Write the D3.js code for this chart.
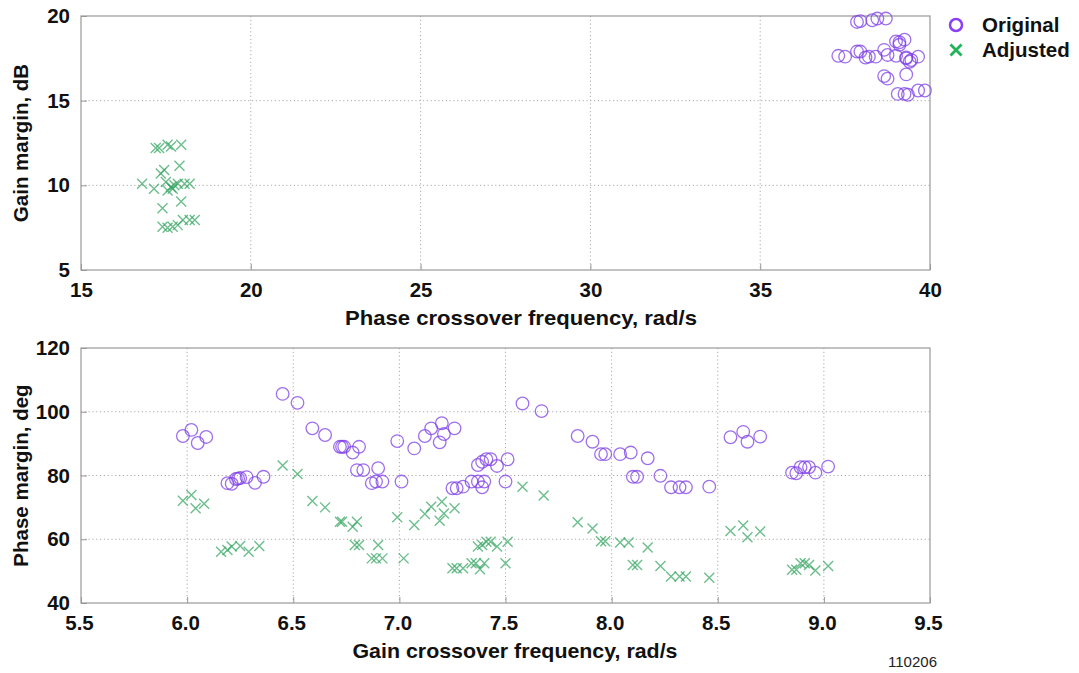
<!DOCTYPE html>
<html><head><meta charset="utf-8">
<script src="https://cdn.jsdelivr.net/npm/d3@7"></script>
<style>
body{margin:0;background:#fff;}
text{font-family:"Liberation Sans",Arial,Helvetica,sans-serif;}
</style></head>
<body><svg id="c" width="1079" height="673"></svg>
<script>
// ---------- data ----------
const topXTicks = [15,20,25,30,35,40];
const topYTicks = [5,10,15,20];
const botXTicks = [5.5,6.0,6.5,7.0,7.5,8.0,8.5,9.0,9.5];
const botYTicks = [40,60,80,100,120];
const seriesNames = ["Original","Adjusted"];

// Top: phase crossover frequency (rad/s) vs gain margin (dB)
const topOriginalX = [37.3,37.5,37.85,38.1,38.4,38.65,38.75,39.0,39.3,39.45,39.65,39.25,39.1,37.95,37.85,38.3,38.45,38.7,39.0,39.1,38.65,38.75,39.3,39.05,39.35,39.25,39.65,39.85,39.4,39.3,38.2,37.95];
const topOriginalY = [17.65,17.6,17.9,17.55,17.6,18.0,17.7,17.65,17.55,17.4,17.6,18.6,18.3,19.7,19.65,19.75,19.85,19.85,18.5,18.45,16.45,16.3,16.55,15.4,15.35,15.4,15.6,15.6,17.3,17.5,17.6,17.9];
const topAdjustedX = [17.2,17.3,17.55,17.65,17.95,17.45,17.35,17.9,16.8,17.15,17.55,17.7,17.85,18.05,18.2,17.5,17.4,17.95,17.4,17.55,17.7,17.85,18.0,18.2,18.35,17.65,17.75];
const topAdjustedY = [12.2,12.2,12.4,12.3,12.4,10.9,10.7,11.15,10.1,9.8,9.7,9.8,10.1,10.1,10.1,10.2,8.65,9.05,7.55,7.5,7.55,7.65,7.95,7.95,7.95,9.9,10.0];

// Bottom: gain crossover frequency (rad/s) vs phase margin (deg)
const botOriginalX = [5.98,6.02,6.05,6.09,6.19,6.21,6.23,6.25,6.28,6.32,6.36,6.24,6.45,6.52,6.59,6.65,6.72,6.73,6.74,6.78,6.81,6.80,6.83,6.87,6.90,6.89,6.92,7.01,6.99,7.07,7.12,7.15,7.20,7.21,7.19,7.26,7.25,7.27,7.30,7.34,7.37,7.39,7.40,7.50,7.37,7.39,7.41,7.43,7.46,7.51,7.58,7.67,7.84,7.91,7.95,7.97,8.04,8.09,8.17,8.10,8.12,8.23,8.28,8.32,8.35,8.46,8.56,8.62,8.64,8.70,8.85,8.87,8.89,8.91,8.93,8.96,9.02];
const botOriginalY = [92.4,94.3,90.2,92.1,77.6,77.4,78.9,79.2,79.5,77.7,79.6,79.0,105.6,102.8,94.8,92.7,89.0,89.0,89.0,87.2,89.0,81.7,81.7,77.6,82.3,78.1,78.1,78.1,90.8,88.5,92.4,94.8,96.4,93.0,90.4,94.8,76.0,76.0,76.5,78.1,78.1,76.3,78.1,78.1,83.3,84.3,85.1,85.1,83.0,85.1,102.6,100.2,92.4,90.6,86.7,86.7,86.7,87.2,85.4,79.6,79.6,79.9,76.3,76.3,76.3,76.5,92.0,93.7,90.6,92.2,80.9,80.7,82.6,82.6,82.6,80.9,82.8];
const botAdjustedX = [5.98,6.02,6.04,6.08,6.16,6.19,6.21,6.25,6.29,6.34,6.45,6.52,6.59,6.65,6.72,6.73,6.78,6.80,6.79,6.81,6.90,6.87,6.89,6.92,7.02,6.99,7.07,7.12,7.15,7.20,7.21,7.19,7.26,7.25,7.27,7.30,7.34,7.36,7.38,7.40,7.50,7.37,7.39,7.41,7.43,7.46,7.51,7.58,7.68,7.84,7.91,7.95,7.97,8.04,8.08,8.17,8.10,8.12,8.23,8.28,8.32,8.35,8.46,8.56,8.62,8.64,8.70,8.85,8.87,8.89,8.91,8.93,8.96,9.02];
const botAdjustedY = [72.1,73.9,69.7,71.1,56.1,56.6,57.7,57.9,56.1,57.9,83.1,80.5,72.0,70.0,65.5,65.5,63.9,65.5,58.2,58.2,58.2,54.0,54.0,54.0,54.0,66.9,64.5,67.9,70.2,71.8,68.1,65.8,69.7,50.9,50.9,50.9,52.5,52.5,50.6,52.5,52.5,57.7,58.2,59.2,59.2,57.7,59.2,76.5,73.7,65.3,63.4,59.4,59.4,59.0,59.0,57.4,51.9,51.9,51.6,48.3,48.3,48.3,47.9,62.6,64.3,60.6,62.4,50.4,50.4,52.5,52.5,51.9,50.2,51.6];

// ---------- drawing ----------
const svg = d3.select("#c");
const purple = "#7d3fe6", green = "#2fa35c";
const L = 81, R = 930;
const FS = 20.5;

function panel(cfg){
  const x = d3.scaleLinear().domain(cfg.xd).range([L,R]);
  const y = d3.scaleLinear().domain(cfg.yd).range([cfg.bottom,cfg.top]);
  const g = svg.append("g");
  g.selectAll(".gx").data(cfg.xt.slice(1,-1)).join("line")
    .attr("x1",d=>x(d)).attr("x2",d=>x(d)).attr("y1",cfg.top).attr("y2",cfg.bottom)
    .attr("stroke","#aaa").attr("stroke-width",1).attr("stroke-dasharray","1.2,2.6");
  g.selectAll(".gy").data(cfg.yt.slice(1,-1)).join("line")
    .attr("y1",d=>y(d)).attr("y2",d=>y(d)).attr("x1",L).attr("x2",R)
    .attr("stroke","#aaa").attr("stroke-width",1).attr("stroke-dasharray","1.2,2.6");
  const ax = g.append("g").attr("transform",`translate(0,${cfg.bottom})`)
    .call(d3.axisBottom(x).tickValues(cfg.xt).tickSizeInner(-6).tickSizeOuter(0).tickPadding(12).tickFormat(cfg.xf));
  const ay = g.append("g").attr("transform",`translate(${L},0)`)
    .call(d3.axisLeft(y).tickValues(cfg.yt).tickSizeInner(-6).tickSizeOuter(0).tickPadding(11).tickFormat(d3.format("d")));
  [ax,ay].forEach(a=>{
    a.select(".domain").remove();
    a.selectAll("line").attr("stroke","#999");
    a.selectAll("text").attr("fill","#111").attr("font-size",FS).attr("font-weight","bold")
      .attr("font-family","'Liberation Sans',Arial,sans-serif");
  });
  ax.selectAll("text").attr("dy","0.71em");
  if(cfg.xtickShift) ax.selectAll("text").attr("dx",cfg.xtickShift);
  g.append("rect").attr("x",L).attr("y",cfg.top).attr("width",R-L).attr("height",cfg.bottom-cfg.top)
    .attr("fill","none").attr("stroke","#999").attr("stroke-width",1.2);
  g.append("text").attr("x",cfg.xtx).attr("y",cfg.bottom+55).attr("text-anchor","middle")
    .attr("font-size",FS).attr("font-weight","bold").attr("fill","#111")
    .attr("textLength",cfg.xtl).attr("lengthAdjust","spacingAndGlyphs").text(cfg.xTitle);
  g.append("text").attr("transform",`translate(28,${(cfg.top+cfg.bottom)/2}) rotate(-90)`)
    .attr("text-anchor","middle").attr("font-size",FS).attr("font-weight","bold").attr("fill","#111")
    .text(cfg.yTitle);
  const m = g.append("g");
  const orig = d3.range(cfg.ox.length).map(i=>[cfg.ox[i],cfg.oy[i]]);
  const adj = d3.range(cfg.axx.length).map(i=>[cfg.axx[i],cfg.ayy[i]]);
  m.selectAll(".o").data(orig).join("circle")
    .attr("cx",d=>x(d[0])).attr("cy",d=>y(d[1])).attr("r",6.3)
    .attr("fill","none").attr("stroke",purple).attr("stroke-width",1.3).attr("stroke-opacity",0.75);
  m.selectAll(".a").data(adj).join("path")
    .attr("d",d=>{const cx=x(d[0]),cy=y(d[1]),s=5;return `M${cx-s},${cy-s}L${cx+s},${cy+s}M${cx-s},${cy+s}L${cx+s},${cy-s}`;})
    .attr("fill","none").attr("stroke",green).attr("stroke-width",1.4).attr("stroke-opacity",0.7);
}

panel({xd:[15,40],yd:[5,20],top:16,bottom:270,xt:topXTicks,yt:topYTicks,xf:d3.format("d"),
  xTitle:"Phase crossover frequency, rad/s",yTitle:"Gain margin, dB",xtx:521,xtl:352,
  ox:topOriginalX,oy:topOriginalY,axx:topAdjustedX,ayy:topAdjustedY});
panel({xd:[5.5,9.5],yd:[40,120],top:348,bottom:603,xt:botXTicks,yt:botYTicks,xf:d3.format(".1f"),
  xTitle:"Gain crossover frequency, rad/s",yTitle:"Phase margin, deg",xtx:515,xtl:325,xtickShift:-2,
  ox:botOriginalX,oy:botOriginalY,axx:botAdjustedX,ayy:botAdjustedY});

const lg = svg.append("g");
seriesNames.forEach((n,i)=>{
  const yy = 25 + i*25;
  if(i===0){
    lg.append("circle").attr("cx",956).attr("cy",yy).attr("r",6).attr("fill","none").attr("stroke","#8a3ff5").attr("stroke-width",2.5);
  } else {
    const s=5.5;
    lg.append("path").attr("d",`M${956-s},${yy-s}L${956+s},${yy+s}M${956-s},${yy+s}L${956+s},${yy-s}`)
      .attr("stroke","#1fb35a").attr("stroke-width",2.8).attr("fill","none");
  }
  lg.append("text").attr("x",982).attr("y",yy+7).attr("font-size",FS).attr("font-weight","bold").attr("fill","#111").text(n);
});
svg.append("text").attr("x",937).attr("y",667).attr("text-anchor","end").attr("font-size",15).attr("fill","#222").text("110206");
</script></body></html>
